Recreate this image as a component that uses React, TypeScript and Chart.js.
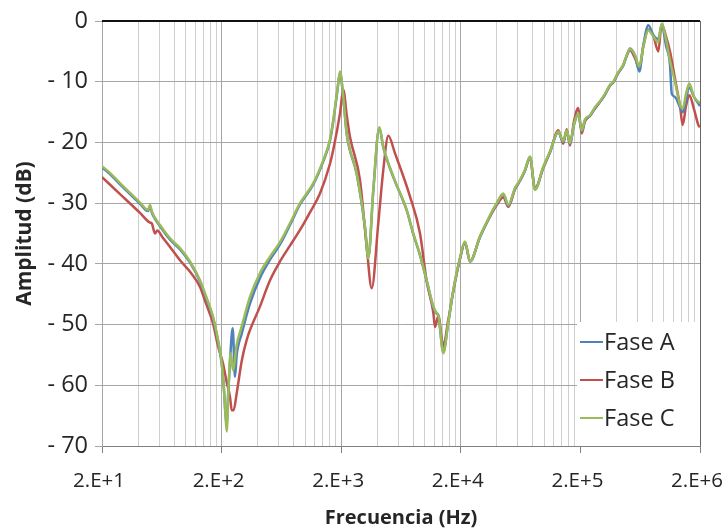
import React, { useEffect, useRef } from "react";
import { Chart, registerables } from "chart.js";

Chart.register(...registerables);

// ---- Data ----
const majorTicks = [2e1, 2e2, 2e3, 2e4, 2e5, 2e6];
const xTickLabels = ["2.E+1", "2.E+2", "2.E+3", "2.E+4", "2.E+5", "2.E+6"];
const yTickValues = [0, -10, -20, -30, -40, -50, -60, -70];
const yTickLabels = ["0", "- 10", "- 20", "- 30", "- 40", "- 50", "- 60", "- 70"];
const minorMultipliers = [2, 3, 4, 5, 6, 7, 8, 9];

const freqA = [20, 23.3, 28.3, 34.3, 41.6, 48.5, 50.4, 52.5, 61.1, 74.1, 89.8, 108.9, 132, 148, 169.5, 186.6, 200.4, 209, 215, 220.6, 226.2, 235.1, 247.6, 258.8, 267.5, 294.6, 345.7, 419, 508, 615.6, 746, 905, 1169, 1417, 1612, 1717, 1855, 1954, 2083, 2224, 2696, 3162, 3370, 3711, 4166, 4498, 5454, 7058, 8016, 9120, 10376, 11781, 12576, 12970, 14284, 15632, 17314, 19694, 21684, 23870, 28943, 35090, 39914, 45346, 49926, 56792, 62522, 68844, 75800, 83460, 97900, 111380, 130700, 143880, 153680, 163700, 176840, 192060, 205080, 218540, 240640, 265000, 291700, 321200, 353700, 376940, 412520, 456920, 490460, 519560, 572140, 621660, 671460, 739260, 813880, 896060, 957020, 1038980, 1122800, 1160160, 1236040, 1361040, 1433860, 1627700, 1782020, 2000000];
const ampA = [-24.1, -25.2, -26.9, -28.5, -30.1, -31.3, -30.6, -31.7, -33.8, -36.0, -37.6, -39.8, -42.9, -45.5, -48.9, -52.7, -56.5, -60.5, -64.5, -66.5, -62.0, -56.0, -50.6, -58.6, -55.0, -51.5, -46.5, -42.3, -39.3, -36.8, -33.6, -30.2, -26.9, -23.1, -19.7, -16.5, -11.6, -8.5, -12.7, -18.6, -25.2, -34.0, -39.0, -27.9, -17.6, -20.8, -25.7, -31.2, -35.1, -38.6, -42.8, -47.1, -48.2, -48.5, -54.5, -50.0, -44.4, -39.1, -36.4, -39.6, -35.6, -32.1, -30.1, -28.5, -30.4, -27.6, -26.3, -24.6, -22.4, -27.7, -24.1, -21.6, -18.3, -19.9, -18.1, -20.2, -17.1, -15.3, -18.1, -16.3, -15.6, -14.3, -13.3, -12.1, -10.6, -10.1, -8.6, -7.3, -5.6, -4.5, -5.7, -8.3, -4.0, -0.7, -2.3, -3.0, -0.6, -4.0, -7.2, -11.9, -12.5, -14.2, -15.0, -11.0, -12.5, -14.0];

const freqB = [20, 28.3, 41.6, 50.4, 52, 55.5, 58, 64, 74.1, 89.8, 108.9, 132, 148, 169.5, 186.6, 205.5, 220.6, 235.1, 242.9, 252, 267.5, 294.6, 324.3, 419, 508, 615.6, 746, 905, 1097, 1329, 1612, 1717, 1954, 2083, 2224, 2370, 2872, 3267, 3598, 4085, 4498, 4952, 5636, 7523, 9120, 10376, 11781, 12172, 12970, 14284, 15632, 17314, 19694, 21684, 23870, 28943, 35090, 39914, 45346, 49926, 56792, 62522, 68844, 75800, 83460, 97900, 111380, 130700, 143880, 153680, 163700, 176840, 192060, 205080, 218540, 240640, 265000, 291700, 321200, 353700, 376940, 412520, 456920, 490460, 519560, 572140, 621660, 671460, 739260, 813880, 896060, 957020, 1038980, 1122800, 1236040, 1361040, 1433860, 1527600, 1627700, 1782020, 1935740, 2000000];
const ampB = [-25.7, -28.5, -31.6, -33.2, -33.3, -35.0, -34.5, -35.6, -37.2, -39.4, -41.3, -43.8, -46.5, -49.8, -53.5, -56.4, -59.5, -61.9, -64.1, -64.1, -61.3, -56.0, -52.5, -47.0, -42.7, -39.6, -37.0, -34.4, -31.5, -28.4, -23.5, -21.2, -15.2, -11.3, -15.5, -19.1, -26.2, -37.2, -44.0, -33.3, -24.5, -18.9, -21.8, -28.9, -35.0, -42.9, -48.0, -50.4, -48.6, -53.5, -49.5, -44.5, -39.2, -36.5, -39.6, -35.5, -32.2, -30.3, -29.0, -30.6, -27.7, -26.3, -24.6, -22.5, -27.6, -24.2, -21.6, -18.0, -20.2, -17.8, -20.5, -16.5, -14.3, -18.5, -16.5, -15.6, -14.4, -13.3, -12.1, -10.6, -10.1, -8.6, -7.2, -5.6, -4.8, -6.1, -7.8, -4.2, -1.4, -2.4, -5.0, -0.5, -2.5, -5.0, -9.5, -14.0, -17.1, -14.0, -12.2, -14.5, -17.1, -17.5];

const freqC = [20, 23.3, 28.3, 34.3, 41.6, 48.5, 50.4, 52.5, 61.1, 74.1, 89.8, 108.9, 132, 148, 169.5, 186.6, 200.4, 209, 215, 220.6, 226.2, 238.3, 249.1, 267.5, 294.6, 345.7, 419, 508, 615.6, 746, 905, 1169, 1417, 1612, 1717, 1855, 1954, 2083, 2224, 2696, 3162, 3370, 3711, 4166, 4498, 5454, 7058, 8016, 9120, 10376, 11781, 12576, 12970, 14284, 15632, 17314, 19694, 21684, 23870, 28943, 35090, 39914, 45346, 49926, 56792, 62522, 68844, 75800, 83460, 97900, 111380, 130700, 143880, 153680, 163700, 176840, 192060, 205080, 218540, 240640, 265000, 291700, 321200, 353700, 376940, 412520, 456920, 490460, 519560, 572140, 621660, 671460, 739260, 813880, 896060, 957020, 1038980, 1122800, 1236040, 1361040, 1433860, 1527600, 1627700, 1782020, 2000000];
const ampC = [-23.9, -25.0, -26.7, -28.3, -29.9, -31.1, -30.3, -31.5, -33.6, -35.8, -37.4, -39.6, -42.7, -45.3, -48.7, -52.5, -56.3, -60.5, -64.5, -67.6, -62.5, -54.7, -57.5, -53.3, -50.3, -45.4, -41.5, -38.8, -36.4, -33.3, -30.0, -26.7, -22.9, -19.5, -16.3, -11.4, -8.3, -12.5, -18.5, -25.1, -33.9, -39.1, -27.8, -17.5, -20.7, -25.6, -31.1, -35.0, -38.5, -42.7, -47.0, -48.1, -48.4, -54.7, -50.0, -44.3, -39.0, -36.3, -39.6, -35.5, -32.0, -30.0, -28.4, -30.3, -27.5, -26.2, -24.5, -22.3, -27.8, -24.0, -21.5, -18.2, -19.8, -18.0, -20.1, -17.0, -15.2, -18.0, -16.2, -15.5, -14.2, -13.2, -12.0, -10.5, -10.0, -8.5, -7.2, -5.5, -4.6, -5.6, -7.5, -4.2, -1.5, -2.5, -3.5, -0.4, -3.0, -6.5, -10.0, -13.8, -14.4, -12.0, -10.3, -12.5, -13.5];

const seriesNames = ["Fase A", "Fase B", "Fase C"];
const seriesColors = ["#4f81bd", "#c0504d", "#9bbb59"];

const FONT = "'Open Sans', 'Noto Sans', sans-serif";
const TEXT = "#262626";

const isMajor = (v: number) => majorTicks.some((m) => Math.abs(v / m - 1) < 1e-6);

const boxLegend = {
  id: "boxLegend",
  afterDatasetsDraw(chart: any) {
    const { ctx, chartArea: a } = chart;
    const w = 123;
    const h = 124;
    const x0 = a.right - w;
    const y0 = a.bottom - h;
    ctx.save();
    ctx.fillStyle = "#ffffff";
    ctx.fillRect(x0, y0, w, h);
    ctx.font = `23.5px ${FONT}`;
    ctx.textBaseline = "middle";
    ctx.textAlign = "left";
    chart.data.datasets.forEach((ds: any, i: number) => {
      const y = y0 + 20 + i * 38;
      ctx.strokeStyle = ds.borderColor;
      ctx.lineWidth = 2;
      ctx.beginPath();
      ctx.moveTo(x0 + 3, y);
      ctx.lineTo(x0 + 26, y);
      ctx.stroke();
      ctx.fillStyle = TEXT;
      ctx.fillText(ds.label, x0 + 27, y + 1);
    });
    ctx.restore();
  },
  afterDraw(chart: any) {
    const { ctx, chartArea: a } = chart;
    ctx.save();
    ctx.strokeStyle = "#111111";
    ctx.lineWidth = 2;
    ctx.beginPath();
    ctx.moveTo(a.left, a.top);
    ctx.lineTo(a.right, a.top);
    ctx.stroke();
    ctx.strokeStyle = "#666666";
    ctx.lineWidth = 1;
    ctx.beginPath();
    ctx.moveTo(a.right + 0.5, a.top);
    ctx.lineTo(a.right + 0.5, a.bottom);
    ctx.stroke();
    ctx.restore();
  },
};

export default function App() {
  const ref = useRef<HTMLCanvasElement>(null);

  useEffect(() => {
    document.body.style.margin = "0";
    const freqs = [freqA, freqB, freqC];
    const amps = [ampA, ampB, ampC];
    const datasets = seriesNames.map((name, i) => ({
      label: name,
      data: freqs[i].map((f, j) => ({ x: f, y: amps[i][j] })),
      borderColor: seriesColors[i],
      backgroundColor: seriesColors[i],
      borderWidth: 2.5,
      pointRadius: 0,
      cubicInterpolationMode: "monotone" as const,
      order: i === 2 ? 0 : i === 0 ? 1 : 2,
    }));

    const chart = new Chart(ref.current!, {
      type: "line",
      data: { datasets },
      plugins: [boxLegend],
      options: {
        animation: false,
        responsive: true,
        maintainAspectRatio: false,
        layout: { padding: { top: 21, right: 28, bottom: 0, left: 0 } },
        font: { family: FONT },
        plugins: {
          legend: { display: false },
          tooltip: { enabled: false },
        },
        scales: {
          x: {
            type: "logarithmic",
            min: 20,
            max: 2e6,
            afterBuildTicks(scale: any) {
              const list: any[] = [];
              for (let d = 0; d < majorTicks.length - 1; d++) {
                list.push({ value: majorTicks[d] });
                minorMultipliers.forEach((k) => list.push({ value: majorTicks[d] * k }));
              }
              list.push({ value: majorTicks[majorTicks.length - 1] });
              scale.ticks = list.filter((o) => o.value <= 2e6);
            },
            afterFit(scale: any) {
              scale.height = 83;
              scale.paddingLeft = 0;
              scale.paddingRight = 0;
            },
            ticks: {
              autoSkip: false,
              maxRotation: 0,
              minRotation: 0,
              padding: 16,
              labelOffset: -3,
              color: TEXT,
              font: { family: FONT, size: 20.5 },
              callback: (v: any) => {
                const idx = majorTicks.findIndex((m) => Math.abs(Number(v) / m - 1) < 1e-6);
                return idx >= 0 ? xTickLabels[idx] : "";
              },
            },
            grid: {
              color: (c: any) => (c.tick && isMajor(c.tick.value) ? "#a6a6a6" : "#cfcfcf"),
              tickColor: (c: any) => (c.tick && isMajor(c.tick.value) ? "#808080" : "rgba(0,0,0,0)"),
              tickLength: 7,
              lineWidth: 1,
            },
            border: { color: "#808080" },
            title: {
              display: true,
              text: "Frecuencia (Hz)",
              color: TEXT,
              font: { family: FONT, size: 20, weight: "bold" },
              padding: { top: 0, bottom: -1 },
            },
          },
          y: {
            type: "linear",
            min: -70,
            max: 0,
            afterBuildTicks(scale: any) {
              scale.ticks = yTickValues.map((v) => ({ value: v }));
            },
            afterFit(scale: any) {
              scale.width = 102;
            },
            ticks: {
              padding: 7,
              color: TEXT,
              font: { family: FONT, size: 23.5 },
              callback: (v: any) => {
                const idx = yTickValues.indexOf(Number(v));
                return idx >= 0 ? yTickLabels[idx] : "";
              },
            },
            grid: {
              color: "#a6a6a6",
              tickColor: "#a6a6a6",
              tickLength: 7,
              lineWidth: 1,
            },
            border: { color: "#a6a6a6" },
            title: {
              display: true,
              text: "Amplitud (dB)",
              color: TEXT,
              font: { family: FONT, size: 21, weight: "bold" },
              padding: { top: 12, bottom: 0 },
            },
          },
        },
      },
    });
    return () => chart.destroy();
  }, []);

  return (
    <div style={{ position: "relative", width: 728, height: 529 }}>
      <canvas ref={ref} />
    </div>
  );
}
